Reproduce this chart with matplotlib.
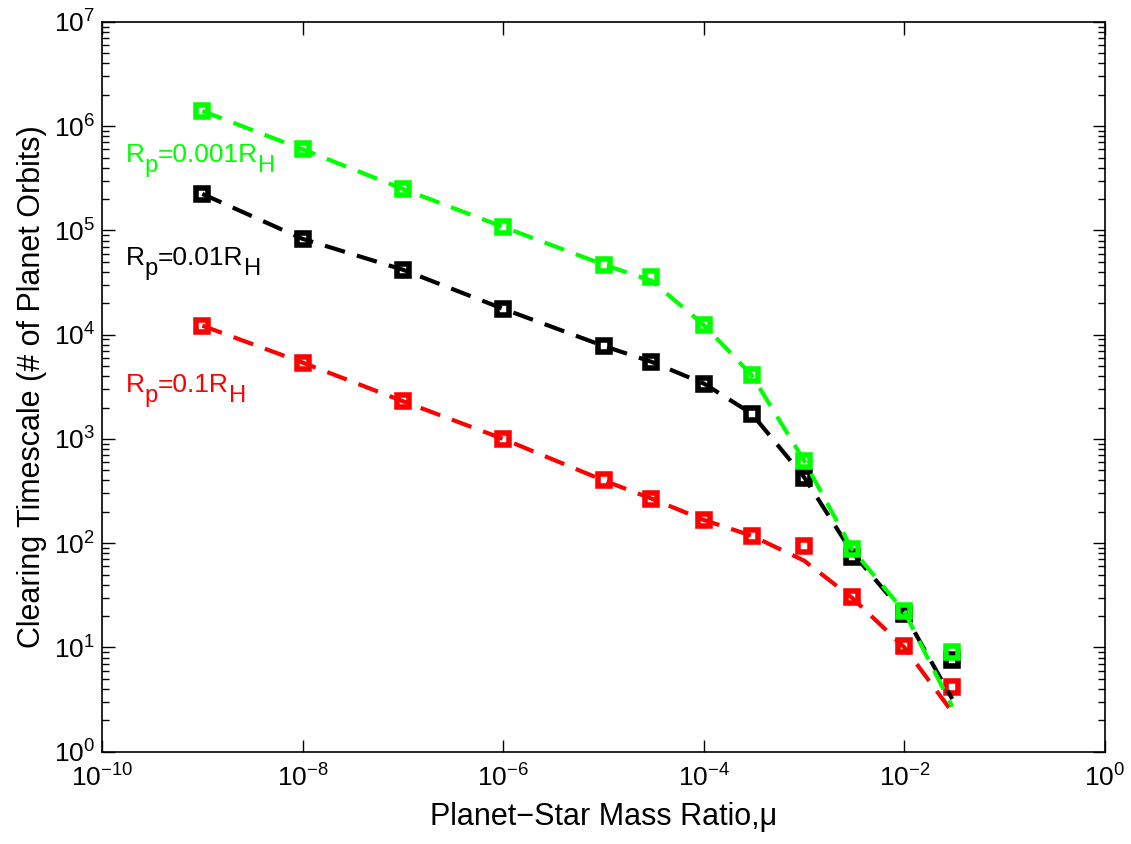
import numpy as np
import matplotlib
matplotlib.use('Agg')
import matplotlib.pyplot as plt
import matplotlib.transforms as mtransforms
from matplotlib.ticker import LogLocator, NullLocator

plt.rcParams['font.family'] = 'Liberation Sans'
plt.rcParams['mathtext.fontset'] = 'custom'
plt.rcParams['mathtext.rm'] = 'Liberation Sans'
plt.rcParams['mathtext.it'] = 'Liberation Sans'
plt.rcParams['xtick.direction'] = 'in'
plt.rcParams['ytick.direction'] = 'in'
plt.rcParams['xtick.top'] = True
plt.rcParams['ytick.right'] = True

# Data
mu = [1e-9, 1e-8, 1e-7, 1e-6, 1e-5, 3e-5, 1e-4, 3e-4, 1e-3, 3e-3, 1e-2, 3e-2]

t_green = [1.40e6, 6.0e5, 2.5e5, 1.08e5, 4.7e4, 3.6e4, 1.24e4, 4.1e3, 610, 88, 22.5, 9.1]
t_black = [2.24e5, 8.3e4, 4.2e4, 1.77e4, 7.8e3, 5.5e3, 3.4e3, 1.75e3, 420, 73, 21, 7.6]
t_red = [1.22e4, 5.4e3, 2.3e3, 1.0e3, 400, 268, 167, 118, 94, 30.5, 10.3, 4.2]

# dashed fit curves
fit_green = [1.40e6, 6.0e5, 2.5e5, 1.08e5, 4.7e4, 3.3e4, 1.24e4, 4.1e3, 620, 88, 22, 2.7]
fit_black = [2.24e5, 8.3e4, 4.2e4, 1.77e4, 7.8e3, 5.5e3, 3.4e3, 1.75e3, 430, 82, 21, 3.2]
fit_red = [1.22e4, 5.4e3, 2.3e3, 1.0e3, 400, 268, 167, 118, 68, 30, 10, 2.4]

# label pieces: (text, is_subscript)
labels = [
    [('R', 0), ('p', 1), ('=0.001R', 0), ('H', 1)],
    [('R', 0), ('p', 1), ('=0.01R', 0), ('H', 1)],
    [('R', 0), ('p', 1), ('=0.1R', 0), ('H', 1)],
]
label_x = 1.73e-10
label_y = [4.56e5, 4.69e4, 2.83e3]

F = 19
cols = ['#00ff00', 'k', '#ff0000']

fig = plt.figure(figsize=(11.31, 8.44), dpi=100)
ax = fig.add_axes([0.0902, 0.1094, 0.8868, 0.8646])

for t, f, c in [(t_red, fit_red, cols[2]), (t_black, fit_black, cols[1]), (t_green, fit_green, cols[0])]:
    ax.plot(mu, f, '--', color=c, lw=3, dashes=(5, 3))
    ax.plot(mu, t, 's', mfc='none', mec=c, ms=8.8, mew=4)

ax.set_xscale('log')
ax.set_yscale('log')
ax.set_xlim(1e-10, 1)
ax.set_ylim(1, 1e7)
ax.set_xticks([1e-10, 1e-8, 1e-6, 1e-4, 1e-2, 1])
ax.xaxis.set_minor_locator(NullLocator())
ax.yaxis.set_major_locator(LogLocator(base=10, numticks=20))
ax.yaxis.set_minor_locator(LogLocator(base=10, subs=np.arange(2, 10), numticks=20))
ax.tick_params(which='major', length=9, width=1, labelsize=F)
ax.tick_params(which='minor', length=5, width=1)
ax.tick_params(axis='x', pad=9)
ax.tick_params(axis='y', pad=5)
for s in ax.spines.values():
    s.set_linewidth(1.2)

# labels with subscripts nearly full size
renderer = fig.canvas.get_renderer()
for pieces, y, c in zip(labels, label_y, cols):
    dx = 0.0
    for txt, sub in pieces:
        size = F * 0.9 if sub else F
        dy = -10.0 if sub else 0.0
        tr = ax.transData + mtransforms.ScaledTranslation(dx / 100, dy / 100, fig.dpi_scale_trans)
        tt = ax.text(label_x, y, txt, color=c, fontsize=size, va='baseline', ha='left', transform=tr)
        dx += tt.get_window_extent(renderer).width

ax.set_xlabel('Planet\u2212Star Mass Ratio,\u03bc', fontsize=22, labelpad=8)
ax.set_ylabel('Clearing Timescale (# of Planet Orbits)', fontsize=22, labelpad=5)

plt.savefig('out.png', dpi=100)
plt.close()
